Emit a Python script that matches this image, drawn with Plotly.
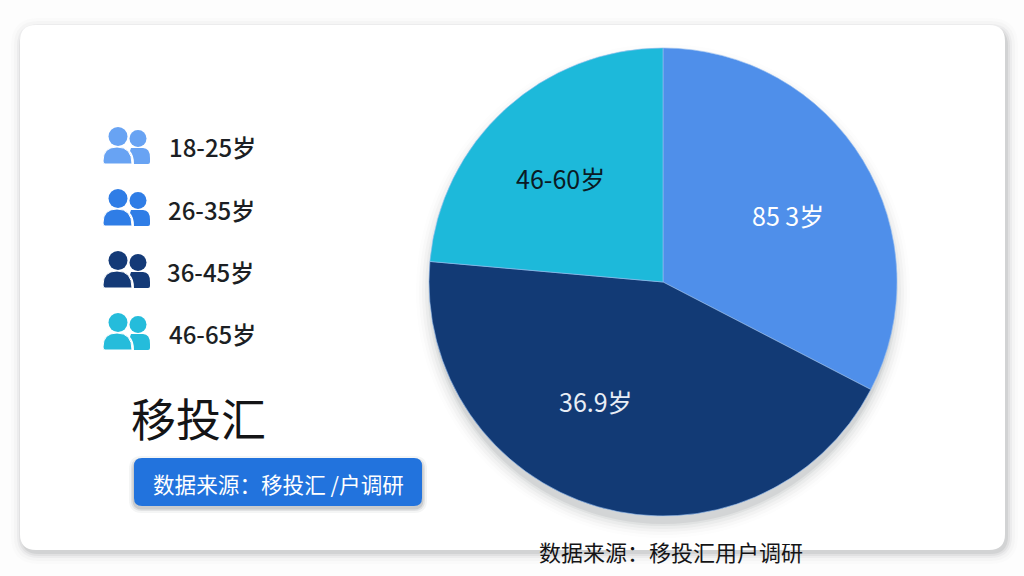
import plotly.graph_objects as go

W, H = 1024, 576
slice_names = ["18-25岁", "36-45岁", "46-60岁"]
slice_values = [32.6, 43.8, 23.6]
slice_texts = ["85 3岁", "36.9岁", "46-60岁"]
slice_colors = ["#4F8FEA", "#123A75", "#1DB9DA"]
slice_text_colors = ["#FFFFFF", "#E8EEF6", "#0B1A24"]
slice_label_px = [(788, 215), (596, 401), (560, 178)]
legend_labels = ["18-25岁", "26-35岁", "36-45岁", "46-65岁"]
legend_colors = ["#68A3F3", "#2F7DE6", "#143A77", "#25BCDB"]
FONT = "Noto Sans CJK SC"

def px(x):
    return x / W
def py(y):
    return 1 - y / H

def rrect(x0, y0, x1, y1, r):
    X0, X1, Y0, Y1 = px(x0), px(x1), py(y0), py(y1)
    rx, ry = r / W, r / H
    return (f"M{X0+rx},{Y0} L{X1-rx},{Y0} Q{X1},{Y0} {X1},{Y0-ry} L{X1},{Y1+ry} Q{X1},{Y1} {X1-rx},{Y1} "
            f"L{X0+rx},{Y1} Q{X0},{Y1} {X0},{Y1+ry} L{X0},{Y0-ry} Q{X0},{Y0} {X0+rx},{Y0} Z")

shapes = []
def add_path(path, color, opacity=1.0, layer="below", line=None):
    shapes.append(dict(type="path", xref="paper", yref="paper", path=path, fillcolor=color,
                       opacity=opacity, line=line or dict(width=0), layer=layer))
def add_circle(cx, cy, r, color, opacity=1.0, layer="below"):
    shapes.append(dict(type="circle", xref="paper", yref="paper", x0=px(cx-r), x1=px(cx+r),
                       y0=py(cy+r), y1=py(cy-r), fillcolor=color, opacity=opacity,
                       line=dict(width=0), layer=layer))

# card shadow + card (soft, pushed down and to the right)
for g, op in [(12, .02), (9, .03), (6, .05), (4, .07), (2, .10)]:
    add_path(rrect(20-g+3, 25-g+5, 1005+g+1, 550+g+2, 16+g), "#50545C", op)
add_path(rrect(20, 25, 1005, 550, 16), "#FFFFFF")

# pie soft shadow
for g, op in [(14, .012), (11, .02), (8, .03), (5, .04), (2, .06), (0, .08)]:
    add_circle(663, 291, 233+g, "#3A404C", op)

# people icons
def person(x, y, c):
    add_circle(x+15, y+8.5, 9.5, c)
    add_circle(x+35, y+10.5, 8.5, c)
    X = lambda v: px(x+v); Y = lambda v: py(y+v)
    add_path(f"M{X(28)},{Y(20)} L{X(40)},{Y(20)} Q{X(47)},{Y(20)} {X(47)},{Y(30)} L{X(47)},{Y(34)} Q{X(47)},{Y(36)} {X(45)},{Y(36)} "
             f"L{X(31)},{Y(36)} Q{X(31)},{Y(27)} {X(27)},{Y(23)} Z", c)
    add_path(f"M{X(0)},{Y(33)} Q{X(0)},{Y(19)} {X(14)},{Y(19)} Q{X(29)},{Y(19)} {X(29)},{Y(36)} "
             f"L{X(2)},{Y(36)} Q{X(0)},{Y(36)} {X(0)},{Y(33)} Z", c,
             line=dict(color="#FFFFFF", width=1))

icon_y = [128, 190, 252, 314]
text_x = [169, 168, 167, 169]
anns = []
for lab, c, yy, tx in zip(legend_labels, legend_colors, icon_y, text_x):
    person(103, yy, c)
    anns.append(dict(x=px(tx-2), y=py(yy+19), xref="paper", yref="paper", text=lab, showarrow=False,
                     xanchor="left", yanchor="middle",
                     font=dict(family=FONT, size=24, weight=500, color="#1C1F24")))

# slice labels
for t, col, (lx, ly) in zip(slice_texts, slice_text_colors, slice_label_px):
    anns.append(dict(x=px(lx), y=py(ly), xref="paper", yref="paper", text=t, showarrow=False,
                     xanchor="center", yanchor="middle",
                     font=dict(family=FONT, size=25, color=col)))

# brand + button
anns.append(dict(x=px(129), y=py(417), xref="paper", yref="paper", text="移投汇", showarrow=False,
                 xanchor="left", yanchor="middle",
                 font=dict(family=FONT, size=45, color="#141416")))
for g, op in [(5, .05), (3, .09), (1.5, .14)]:
    add_path(rrect(134-g, 458-g+3, 422+g, 506+g+2, 8+g), "#303844", op)
add_path(rrect(134, 458, 422, 506, 8), "#2273DD")
anns.append(dict(x=px(278), y=py(483), xref="paper", yref="paper", text="数据来源：移投汇 /户调研", showarrow=False,
                 xanchor="center", yanchor="middle", font=dict(family=FONT, size=21.6, color="#FFFFFF")))
anns.append(dict(x=px(671), y=py(551), xref="paper", yref="paper", text="数据来源：移投汇用户调研", showarrow=False,
                 xanchor="center", yanchor="middle", font=dict(family=FONT, size=22, color="#141416")))

pie = go.Pie(labels=slice_names, values=slice_values, textinfo="none", sort=False,
             direction="clockwise", rotation=0, hoverinfo="label+percent",
             marker=dict(colors=slice_colors, line=dict(color="rgba(150,190,240,0.6)", width=1)),
             domain=dict(x=[px(429), px(897)], y=[py(516), py(48)]), showlegend=False)

fig = go.Figure(pie)
fig.update_layout(width=W, height=H, margin=dict(l=0, r=0, t=0, b=0), paper_bgcolor="#FDFDFD",
                  plot_bgcolor="#FDFDFD", shapes=shapes, annotations=anns, showlegend=False,
                  font=dict(family=FONT))
fig.write_html("out.html", config=dict(displayModeBar=False),
               post_script="document.body.style.margin='0';document.documentElement.style.overflow='hidden';")
